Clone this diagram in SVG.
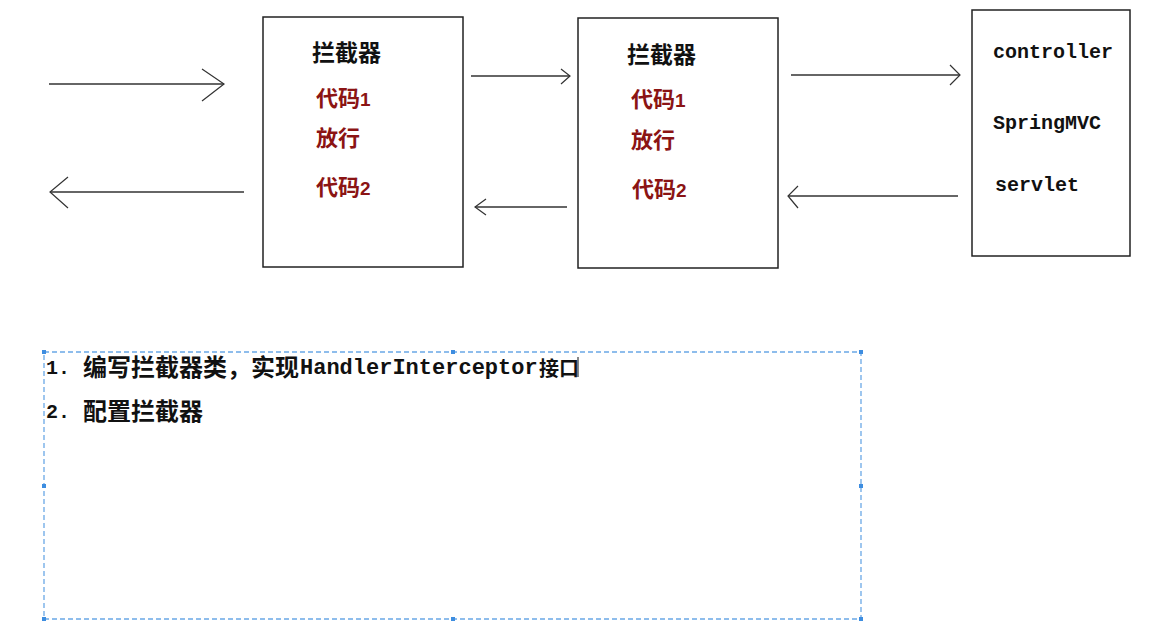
<svg xmlns="http://www.w3.org/2000/svg" width="1168" height="644" viewBox="0 0 1168 644">
<style>
.box{fill:#fff;stroke:#222;stroke-width:1.5}
.conn{stroke:#333;stroke-width:1.3;fill:none}
.head{stroke:#333;stroke-width:1.2;fill:none}
.cn{font-family:"Noto Sans CJK SC","Noto Sans",sans-serif;font-weight:bold;font-size:22px}
.blk{fill:#111}
.red{fill:#8b1414}
.num{font-family:"Liberation Sans",Arial,sans-serif;font-weight:bold;font-size:19px}
.mono{font-family:"Liberation Mono","DejaVu Sans Mono",monospace;font-weight:bold;font-size:20px;fill:#111}
.sel{fill:none;stroke:#6aa8e6;stroke-width:1.3;stroke-dasharray:5 3}
.h{fill:#3d8de0}
</style>
<rect width="1168" height="644" fill="#fff"/>
<g id="connectors">
<path class="conn" d="M49 84H224"/><path class="head" d="M202 69L224 84L202 101"/>
<path class="conn" d="M50 192H244"/><path class="head" d="M68 177L50 192L68 208"/>
<path class="conn" d="M471 76H570"/><path class="head" d="M561 69L570 76L561 84"/>
<path class="conn" d="M475 207H567"/><path class="head" d="M486 199L475 207L486 215"/>
<path class="conn" d="M791 75H960"/><path class="head" d="M950 65L960 75L950 85"/>
<path class="conn" d="M788 196H958"/><path class="head" d="M798 186L788 196L798 208"/>
</g>
<g id="interceptor1">
<rect class="box" x="263" y="17" width="200" height="250"/>
<text class="cn blk" x="312" y="61" style="font-size:23px">拦截器</text>
<text class="cn red" x="316" y="106">代码<tspan class="num">1</tspan></text>
<text class="cn red" x="316" y="146">放行</text>
<text class="cn red" x="316" y="195">代码<tspan class="num">2</tspan></text>
</g>
<g id="interceptor2">
<rect class="box" x="578" y="18" width="200" height="250"/>
<text class="cn blk" x="627" y="63" style="font-size:23px">拦截器</text>
<text class="cn red" x="631" y="107">代码<tspan class="num">1</tspan></text>
<text class="cn red" x="631" y="148">放行</text>
<text class="cn red" x="632" y="197">代码<tspan class="num">2</tspan></text>
</g>
<g id="target">
<rect class="box" x="972" y="10" width="158" height="246"/>
<text class="mono" x="993" y="58">controller</text>
<text class="mono" x="993" y="129">SpringMVC</text>
<text class="mono" x="995" y="191">servlet</text>
</g>
<g id="notes">
<rect class="sel" x="44" y="352" width="817" height="267"/>
<rect class="h" x="42" y="350" width="4" height="4"/><rect class="h" x="451" y="350" width="4" height="4"/><rect class="h" x="859" y="350" width="4" height="4"/>
<rect class="h" x="42" y="484" width="4" height="4"/><rect class="h" x="859" y="484" width="4" height="4"/>
<rect class="h" x="42" y="617" width="4" height="4"/><rect class="h" x="451" y="617" width="4" height="4"/><rect class="h" x="859" y="617" width="4" height="4"/>
<text class="mono" x="46" y="374">1.</text>
<text class="cn blk" x="83" y="376" style="font-size:24px">编写拦截器类，实现</text>
<text class="mono" x="300" y="374" style="font-size:22px">HandlerInterceptor</text>
<text class="cn blk" x="539" y="376" style="font-size:20px">接口</text>
<path d="M578 357V377" stroke="#111" stroke-width="1"/>
<text class="mono" x="46" y="418">2.</text>
<text class="cn blk" x="83" y="420" style="font-size:24px">配置拦截器</text>
</g>
</svg>
